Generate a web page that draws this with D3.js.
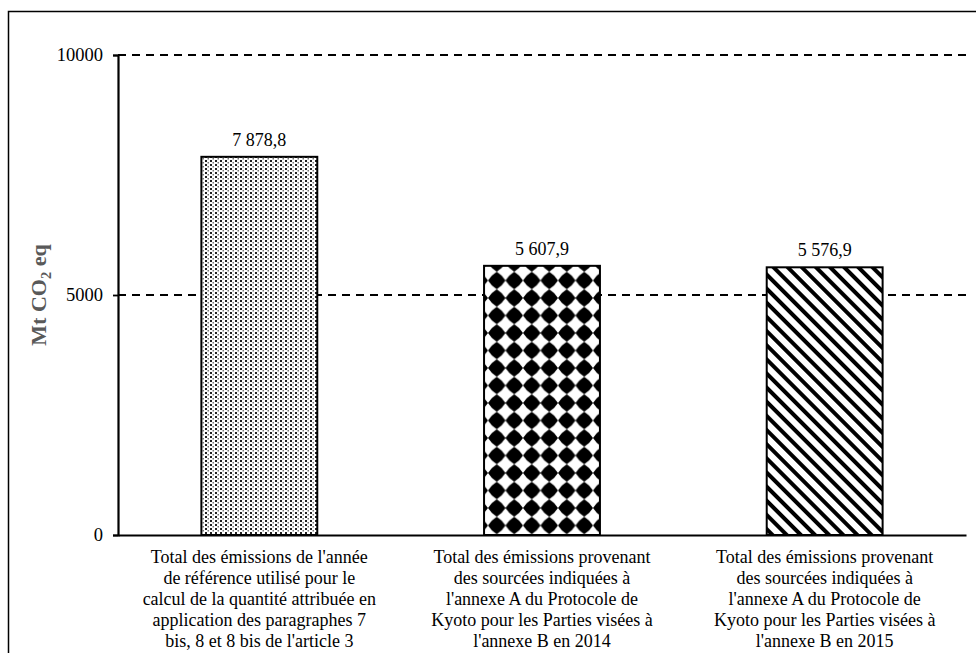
<!DOCTYPE html>
<html>
<head>
<meta charset="utf-8">
<script src="https://cdn.jsdelivr.net/npm/d3@7"></script>
<style>
  html, body { margin: 0; padding: 0; background: #fff; }
  svg { display: block; }
  svg text { font-family: "Liberation Serif", "Times New Roman", "DejaVu Serif", serif !important; }
</style>
</head>
<body>
<svg id="chart" width="976" height="653"></svg>
<script>
const categories = ["cat1", "cat2", "cat3"];
const categoryLabels = [
  ["Total des émissions de l'année", "de référence utilisé pour le", "calcul de la quantité attribuée en", "application des paragraphes 7", "bis, 8 et 8 bis de l'article 3"],
  ["Total des émissions provenant", "des sourcées indiquées à", "l'annexe A du Protocole de", "Kyoto pour les Parties visées à", "l'annexe B en 2014"],
  ["Total des émissions provenant", "des sourcées indiquées à", "l'annexe A du Protocole de", "Kyoto pour les Parties visées à", "l'annexe B en 2015"]
];
const values = [7878.8, 5607.9, 5576.9];
const valueLabels = ["7 878,8", "5 607,9", "5 576,9"];
const yTicks = [0, 5000, 10000];
const patterns = ["pDots", "pDiamonds", "pStripes"];

const FONT = "'Liberation Serif', 'Times New Roman', serif";
const FS = 18;
const svg = d3.select("#chart").attr("font-family", FONT);
const W = 976, H = 653;
const m = { left: 118, right: 10, top: 55, bottom: 118 };

// outer frame
svg.append("rect").attr("x", 8.5).attr("y", 11.5).attr("width", 1000).attr("height", 700)
  .attr("fill", "none").attr("stroke", "#000").attr("stroke-width", 1.5);

const defs = svg.append("defs");
// dotted pattern
const p1 = defs.append("pattern").attr("id", "pDots").attr("patternUnits", "userSpaceOnUse")
  .attr("width", 5).attr("height", 4);
p1.append("rect").attr("width", 5).attr("height", 4).attr("fill", "#fff");
p1.append("rect").attr("x", 0).attr("y", 0).attr("width", 2).attr("height", 2).attr("fill", "#222");
p1.append("rect").attr("x", 2.5).attr("y", 2).attr("width", 1.5).attr("height", 1.5).attr("fill", "#777");

// diamonds pattern
const ds = 17.5;
const p2 = defs.append("pattern").attr("id", "pDiamonds").attr("patternUnits", "userSpaceOnUse")
  .attr("width", ds).attr("height", ds).attr("x", 488).attr("y", 289.25);
p2.append("rect").attr("width", ds).attr("height", ds).attr("fill", "#fff");
const c = ds / 2, r = ds / 2, k = 0.62;
p2.append("path")
  .attr("d", `M${c},${c - r} Q${c + r * k},${c - r * k} ${c + r},${c} Q${c + r * k},${c + r * k} ${c},${c + r} Q${c - r * k},${c + r * k} ${c - r},${c} Q${c - r * k},${c - r * k} ${c},${c - r} Z`)
  .attr("fill", "#000");

// stripes pattern
const p3 = defs.append("pattern").attr("id", "pStripes").attr("patternUnits", "userSpaceOnUse")
  .attr("width", 10).attr("height", 10).attr("patternTransform", "rotate(45)");
p3.append("rect").attr("width", 10).attr("height", 10).attr("fill", "#fff");
p3.append("rect").attr("x", 0).attr("y", 0).attr("width", 10).attr("height", 4).attr("fill", "#000");

const x = d3.scaleBand().domain(categories).range([m.left, W - m.right]).paddingInner(0.59).paddingOuter(0.295);
const y = d3.scaleLinear().domain([0, 10000]).range([H - m.bottom, m.top]);

// gridlines
svg.append("g").selectAll("line").data(yTicks.filter(d => d > 0)).join("line")
  .attr("x1", m.left).attr("x2", W - m.right)
  .attr("y1", d => y(d)).attr("y2", d => y(d))
  .attr("stroke", "#000").attr("stroke-width", 1.8).attr("stroke-dasharray", "8,6");

// bars
svg.append("g").selectAll("rect").data(values).join("rect")
  .attr("x", (d, i) => x(categories[i]))
  .attr("width", x.bandwidth())
  .attr("y", d => y(d))
  .attr("height", d => y(0) - y(d))
  .attr("fill", (d, i) => `url(#${patterns[i]})`)
  .attr("stroke", "#000").attr("stroke-width", 2);

// value labels
svg.append("g").selectAll("text").data(values).join("text")
  .attr("font-family", FONT)
  .attr("x", (d, i) => x(categories[i]) + x.bandwidth() / 2)
  .attr("y", d => y(d) - 11)
  .attr("text-anchor", "middle").attr("font-size", FS).attr("fill", "#000")
  .text((d, i) => valueLabels[i]);

// y axis
const yAxis = d3.axisLeft(y).tickValues(yTicks).tickSize(5).tickPadding(10).tickFormat(d3.format("d"));
const gy = svg.append("g").attr("transform", `translate(${m.left},0)`).call(yAxis).attr("font-family", FONT);
gy.select(".domain").attr("stroke", "#000").attr("stroke-width", 2.2);
gy.selectAll(".tick line").attr("stroke", "#000").attr("stroke-width", 1.8);
gy.selectAll(".tick text").attr("font-size", FS + 0.5).attr("fill", "#000").attr("font-family", FONT);

// x axis
const xAxis = d3.axisBottom(x).tickSize(0).tickFormat("");
const gx = svg.append("g").attr("transform", `translate(0,${y(0)})`).call(xAxis);
gx.select(".domain").attr("stroke", "#000").attr("stroke-width", 2.2);

// category labels
const lab = svg.append("g").selectAll("text").data(categories).join("text")
  .attr("font-family", FONT)
  .attr("text-anchor", "middle").attr("font-size", FS).attr("fill", "#000")
  .attr("x", d => x(d) + x.bandwidth() / 2)
  .attr("y", 563);
lab.each(function(d, i) {
  const t = d3.select(this);
  categoryLabels[i].forEach((line, j) => {
    t.append("tspan").attr("x", x(d) + x.bandwidth() / 2).attr("y", 563 + j * 21).text(line);
  });
});

// y axis title
const yt = svg.append("text").attr("font-family", FONT)
  .attr("transform", `translate(46,${(y(0) + y(10000)) / 2}) rotate(-90)`)
  .attr("text-anchor", "middle").attr("font-size", 22).attr("font-weight", "bold").attr("fill", "#595959");
yt.append("tspan").text("Mt CO");
yt.append("tspan").attr("font-size", 14.5).attr("dy", 5).text("2");
yt.append("tspan").attr("dy", -5).text(" eq");
</script>
</body>
</html>
